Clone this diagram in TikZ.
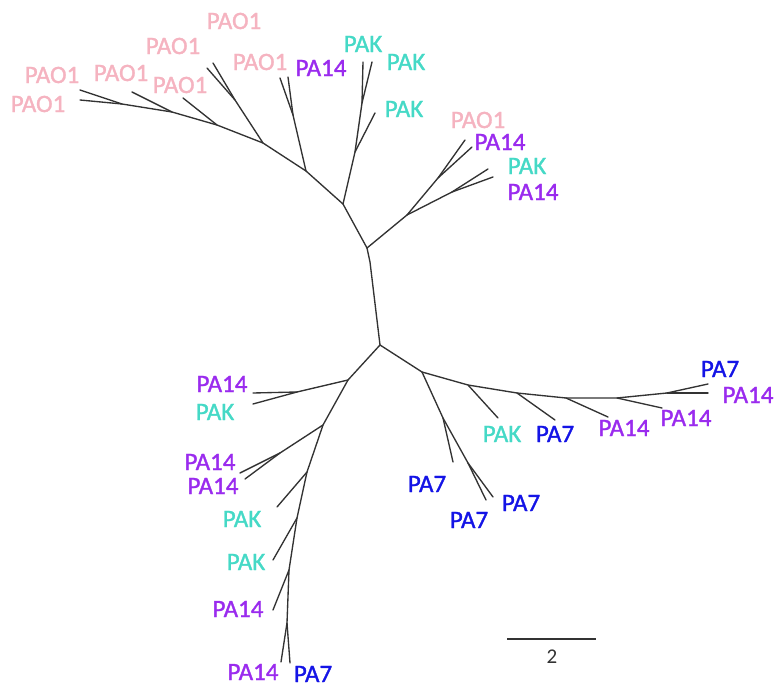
\documentclass[tikz,border=0pt]{standalone}
\usepackage{fontspec}
\setmainfont{Carlito}
\newfontfamily\labelfont[FakeBold=1.3]{Carlito}
\definecolor{cPAO}{HTML}{F5B3C0}
\definecolor{cPAK}{HTML}{45D9C6}
\definecolor{cPAxiv}{HTML}{9A2BEE}
\definecolor{cPAvii}{HTML}{1414E6}
\definecolor{branch}{HTML}{333333}
\tikzset{
  edge/.style={draw=branch, line width=1.35pt, line cap=round, line join=round},
  lab/.style={inner sep=0pt, font=\labelfont\fontsize{25}{25}\selectfont},
  pao/.style={lab, text=cPAO},
  pak/.style={lab, text=cPAK},
  pafourteen/.style={lab, text=cPAxiv},
  paseven/.style={lab, text=cPAvii},
}
\begin{document}
\begin{tikzpicture}[x=1pt, y=-1pt]
\useasboundingbox (0,0) rectangle (777,687);

% ---- internal nodes ----
\coordinate (C) at (367,248);
\coordinate (bend) at (370,262);
\coordinate (D) at (380,345);
\coordinate (A) at (343,204);
\coordinate (B) at (306,171);
\coordinate (Q1) at (355,152);
\coordinate (Q2) at (362,103);
\coordinate (B1) at (293,115);
\coordinate (P1) at (263,143);
\coordinate (P2) at (235,100);
\coordinate (P3) at (217,125);
\coordinate (P4) at (172,112);
\coordinate (P5) at (122,104);
\coordinate (R1) at (407,215);
\coordinate (R2) at (438,178);
\coordinate (R3) at (452,192);
\coordinate (E) at (348,380);
\coordinate (E1) at (297,392);
\coordinate (F) at (323,425);
\coordinate (F1) at (280,453);
\coordinate (G) at (307,472);
\coordinate (H) at (297,518);
\coordinate (I) at (289,570);
\coordinate (J) at (287,623);
\coordinate (K) at (422,372);
\coordinate (K1) at (443,418);
\coordinate (K2) at (468,463);
\coordinate (L) at (468,385);
\coordinate (M) at (517,393);
\coordinate (N) at (566,398);
\coordinate (O) at (617,398);
\coordinate (P) at (667,393);

% ---- leaf tips ----
\coordinate (tPAKa) at (363,62);
\coordinate (tPAKb) at (372,62);
\coordinate (tPAKc) at (375,113);
\coordinate (tB1a) at (280,78);
\coordinate (tB1b) at (288,77);
\coordinate (tP2a) at (207,68);
\coordinate (tP2b) at (213,63);
\coordinate (tP3) at (183,98);
\coordinate (tP4) at (132,92);
\coordinate (tP5a) at (80,90);
\coordinate (tP5b) at (80,100);
\coordinate (tR2a) at (465,140);
\coordinate (tR2b) at (472,147);
\coordinate (tR3a) at (488,169);
\coordinate (tR3b) at (493,177);
\coordinate (tE1a) at (253,393);
\coordinate (tE1b) at (253,404);
\coordinate (tF1a) at (240,473);
\coordinate (tF1b) at (245,479);
\coordinate (tG) at (277,507);
\coordinate (tH) at (273,560);
\coordinate (tI) at (273,610);
\coordinate (tJa) at (281,662);
\coordinate (tJb) at (290,663);
\coordinate (tK1) at (453,462);
\coordinate (tK2a) at (486,500);
\coordinate (tK2b) at (493,497);
\coordinate (tL) at (498,418);
\coordinate (tM) at (555,420);
\coordinate (tN) at (608,417);
\coordinate (tO) at (662,408);
\coordinate (tPa) at (708,384);
\coordinate (tPb) at (708,393);

% ---- branches ----
\draw[edge] (C) -- (bend) -- (D);
\draw[edge] (C) -- (A);
\draw[edge] (A) -- (B);
\draw[edge] (A) -- (Q1) -- (Q2) -- (tPAKa);
\draw[edge] (Q2) -- (tPAKb);
\draw[edge] (Q1) -- (tPAKc);
\draw[edge] (B) -- (B1) -- (tB1a);
\draw[edge] (B1) -- (tB1b);
\draw[edge] (B) -- (P1) -- (P3) -- (P4) -- (P5) -- (tP5a);
\draw[edge] (P5) -- (tP5b);
\draw[edge] (P1) -- (P2) -- (tP2a);
\draw[edge] (P2) -- (tP2b);
\draw[edge] (P3) -- (tP3);
\draw[edge] (P4) -- (tP4);
\draw[edge] (C) -- (R1);
\draw[edge] (R1) -- (R2) -- (tR2a);
\draw[edge] (R2) -- (tR2b);
\draw[edge] (R1) -- (R3) -- (tR3a);
\draw[edge] (R3) -- (tR3b);

\draw[edge] (D) -- (E);
\draw[edge] (E) -- (E1) -- (tE1a);
\draw[edge] (E1) -- (tE1b);
\draw[edge] (E) -- (F) -- (G) -- (H) -- (I) -- (J) -- (tJa);
\draw[edge] (J) -- (tJb);
\draw[edge] (F) -- (F1) -- (tF1a);
\draw[edge] (F1) -- (tF1b);
\draw[edge] (G) -- (tG);
\draw[edge] (H) -- (tH);
\draw[edge] (I) -- (tI);

\draw[edge] (D) -- (K);
\draw[edge] (K) -- (K1) -- (tK1);
\draw[edge] (K1) -- (K2) -- (tK2a);
\draw[edge] (K2) -- (tK2b);
\draw[edge] (K) -- (L) -- (M) -- (N) -- (O) -- (P) -- (tPa);
\draw[edge] (P) -- (tPb);
\draw[edge] (L) -- (tL);
\draw[edge] (M) -- (tM);
\draw[edge] (N) -- (tN);
\draw[edge] (O) -- (tO);

% ---- labels ----
\node[pao] (lao1) at (234,21) {PAO1};
\node[pao] (lao2) at (173,46) {PAO1};
\node[pao] (lao3) at (260,62) {PAO1};
\node[pao] (lao4) at (52,75) {PAO1};
\node[pao] (lao5) at (121,73) {PAO1};
\node[pao] (lao6) at (180,85) {PAO1};
\node[pao] (lao7) at (38,104) {PAO1};
\node[pao] (lao8) at (478,120) {PAO1};

\node[pafourteen] (lxa) at (321,68) {PA14};
\node[pafourteen] (lxb) at (500,142) {PA14};
\node[pafourteen] (lxc) at (533,192) {PA14};
\node[pafourteen] (lxd) at (222,384) {PA14};
\node[pafourteen] (lxe) at (210,462) {PA14};
\node[pafourteen] (lxf) at (213,486) {PA14};
\node[pafourteen] (lxg) at (238,609) {PA14};
\node[pafourteen] (lxh) at (253,672) {PA14};
\node[pafourteen] (lxi) at (624,428) {PA14};
\node[pafourteen] (lxj) at (686,418) {PA14};
\node[pafourteen] (lxk) at (748,395) {PA14};

\node[pak] (lka) at (363,44) {PAK};
\node[pak] (lkb) at (406,62) {PAK};
\node[pak] (lkc) at (404,109) {PAK};
\node[pak] (lkd) at (527,166) {PAK};
\node[pak] (lke) at (215,412) {PAK};
\node[pak] (lkf) at (242,519) {PAK};
\node[pak] (lkg) at (246,562) {PAK};
\node[pak] (lkh) at (502,434) {PAK};

\node[paseven] (lsa) at (555,434) {PA7};
\node[paseven] (lsb) at (427,484) {PA7};
\node[paseven] (lsc) at (469,520) {PA7};
\node[paseven] (lsd) at (521,503) {PA7};
\node[paseven] (lse) at (720,369) {PA7};
\node[paseven] (lsf) at (313,674) {PA7};

% ---- scale bar ----
\coordinate (sbL) at (507,639);
\coordinate (sbR) at (596,639);
\draw[draw=branch, line width=1.5pt] (sbL) -- (sbR);
\node[inner sep=0pt, text=branch, font=\fontsize{21}{21}\selectfont] (sblab) at (552,657) {2};
\end{tikzpicture}
\end{document}
